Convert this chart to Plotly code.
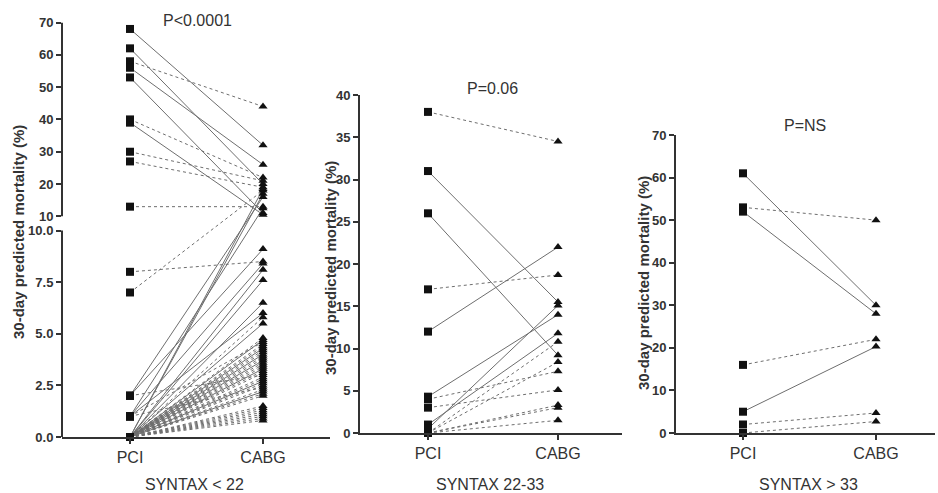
import plotly.graph_objects as go

# ---------------- data ----------------
groups = ["PCI", "CABG"]

# SYNTAX < 22 (paired PCI / CABG predicted 30-day mortality, %)
pci_lt22 = [68, 62, 58, 56, 53, 40, 39, 30, 27, 13, 7, 0, 0, 2, 1,
            8, 2, 2, 1, 1, 1, 1,
            0, 0, 0, 0, 0, 0, 0, 0, 0, 0, 0, 0, 0, 0, 0, 0, 0, 0, 0, 0, 0,
            0, 0, 0, 0, 0, 0, 0, 0, 0, 0, 0, 0, 0, 0, 0, 0, 0, 0]
cabg_lt22 = [32, 20, 44, 26, 11, 22, 10.5, 21, 19, 13, 18, 17, 18.5, 16, 12.5,
             8.5, 9.1, 3.0, 8.4, 6.0, 4.6, 2.4,
             8.1, 7.6, 6.5, 5.8, 5.5, 4.8, 4.7, 4.5, 4.4, 4.3, 4.2, 4.1, 4.0, 3.9, 3.8, 3.7, 3.6, 3.5, 3.4, 3.3, 3.2,
             3.1, 2.9, 2.8, 2.7, 2.6, 2.5, 2.3, 2.2, 2.1, 2.0, 1.5, 1.4, 1.3, 1.2, 1.1, 1.0, 0.9, 0.8]
style_lt22 = ["s", "s", "d", "s", "s", "d", "s", "d", "d", "d", "d", "s", "s", "s", "s",
              "d", "s", "d", "s", "s", "d", "d",
              "s", "s", "s", "d", "s", "d", "s", "d", "d", "s", "d", "d", "s", "d", "d", "s", "d", "d", "d", "s", "d",
              "d", "d", "d", "s", "d", "d", "d", "s", "d", "d", "d", "d", "d", "d", "d", "d", "d", "d"]

# SYNTAX 22-33
pci_22_33 = [38, 31, 26, 17, 12, 4.3, 4.0, 3.0, 1.0, 0.5, 0, 0, 0, 0, 0]
cabg_22_33 = [34.5, 15.5, 9.2, 18.7, 22, 14.0, 7.3, 5.1, 11.8, 15.1, 10.8, 8.4, 3.3, 3.0, 1.5]
style_22_33 = ["d", "s", "s", "d", "s", "s", "d", "d", "s", "s", "d", "d", "d", "d", "d"]

# SYNTAX > 33
pci_gt33 = [61, 53, 52, 16, 5, 2, 0]
cabg_gt33 = [30, 50, 28, 22, 20.3, 4.7, 2.7]
style_gt33 = ["s", "d", "s", "d", "s", "d", "d"]

p_labels = ["P<0.0001", "P=0.06", "P=NS"]
panel_labels = ["SYNTAX < 22", "SYNTAX 22-33", "SYNTAX > 33"]
y_title = "30-day predicted mortality (%)"

lower_ticks = [0, 2.5, 5, 7.5, 10]
upper_ticks = [10, 20, 30, 40, 50, 60, 70]

# ---------------- broken-axis scale for panel 1 ----------------
PX_LOW = 20.66          # px per unit in 0-10 segment
PX_UP = 3.233           # px per unit in 10-70 segment
GAP = 14.2 / PX_LOW     # gap between segments (in lower units)
K = PX_UP / PX_LOW


def brk(v):
    return v if v <= 10 else 10 + GAP + (v - 10) * K


FONT = "Liberation Sans, Arial, sans-serif"
AX = "#333333"
LINE_C = "#6e6e6e"
MARK_C = "#111111"

fig = go.Figure()


def add_panel(pci, cabg, style, xa, ya, tf=lambda v: v):
    for st, dash in (("d", "dot"), ("s", "solid")):
        xs, ys = [], []
        for a, b, s in zip(pci, cabg, style):
            if s == st:
                xs += [groups[0], groups[1], None]
                ys += [tf(a), tf(b), None]
        fig.add_trace(go.Scatter(x=xs, y=ys, mode="lines", xaxis=xa, yaxis=ya,
                                 line=dict(color=LINE_C, width=1, dash=dash),
                                 hoverinfo="skip", connectgaps=False))
    fig.add_trace(go.Scatter(x=[groups[0]] * len(pci), y=[tf(v) for v in pci],
                             mode="markers", xaxis=xa, yaxis=ya, cliponaxis=False,
                             marker=dict(symbol="square", size=8, color=MARK_C)))
    fig.add_trace(go.Scatter(x=[groups[1]] * len(cabg), y=[tf(v) for v in cabg],
                             mode="markers", xaxis=xa, yaxis=ya, cliponaxis=False,
                             marker=dict(symbol="triangle-up", size=8, color=MARK_C)))


add_panel(pci_lt22, cabg_lt22, style_lt22, "x", "y", brk)
add_panel(pci_22_33, cabg_22_33, style_22_33, "x2", "y2")
add_panel(pci_gt33, cabg_gt33, style_gt33, "x3", "y3")

W, H = 938, 493
tickfont = dict(family=FONT, size=13, color=AX, weight="bold")
xtickfont = dict(family=FONT, size=16, color=AX)


def xaxis(x0, x1, xp, xc, yanchor):
    ppu = xc - xp
    return dict(domain=[x0 / W, x1 / W], range=[-(xp - x0) / ppu, 1 + (x1 - xc) / ppu],
                type="category", anchor=yanchor, showline=True, linewidth=2, linecolor=AX,
                ticks="outside", ticklen=5, tickwidth=2, tickcolor=AX, automargin=False,
                tickfont=xtickfont, showgrid=False, zeroline=False, fixedrange=True)


def yaxis(y0, y1, rng, dtick, xanchor, showline=True):
    return dict(domain=[1 - y0 / H, 1 - y1 / H], range=rng, anchor=xanchor,
                showline=showline, linewidth=2, linecolor=AX, ticks="outside",
                ticklen=5, tickwidth=2, tickcolor=AX, tickfont=tickfont, automargin=False,
                showgrid=False, zeroline=False, dtick=dtick, fixedrange=True)


fig.update_layout(
    width=W, height=H, margin=dict(l=0, r=0, t=0, b=0, pad=0, autoexpand=False),
    paper_bgcolor="white", plot_bgcolor="white", showlegend=False, hovermode=False,
    xaxis=xaxis(62, 330, 130, 263, "y"),
    xaxis2=xaxis(360, 622, 428, 558, "y2"),
    xaxis3=xaxis(676, 935, 743, 876, "y3"),
    yaxis=yaxis(437, 22.5, [0, brk(70)], None, "x", showline=False),
    yaxis2=yaxis(433, 95, [0, 40], 5, "x2"),
    yaxis3=yaxis(433, 135, [0, 70], 10, "x3"),
)
fig.update_layout(yaxis=dict(
    tickmode="array",
    tickvals=[brk(v) for v in lower_ticks] + [brk(v) + (GAP if v == 10 else 0) for v in upper_ticks],
    ticktext=[f"{v:.1f}" for v in lower_ticks] + [str(v) for v in upper_ticks]))

# broken y-axis spine for panel 1
fig.add_shape(type="line", xref="x domain", yref="y", x0=0, x1=0, y0=0, y1=10,
              line=dict(color=AX, width=2))
fig.add_shape(type="line", xref="x domain", yref="y", x0=0, x1=0, y0=10 + GAP, y1=brk(70),
              line=dict(color=AX, width=2))

annos = []
for txt, xc, yc in zip(p_labels, [197, 492, 805], [20, 89, 125]):
    annos.append(dict(text=txt, x=xc / W, y=1 - yc / H, xref="paper", yref="paper",
                      showarrow=False, xanchor="center", yanchor="middle",
                      font=dict(family=FONT, size=16, color=AX)))
for txt, xc in zip(panel_labels, [194.5, 490, 808]):
    annos.append(dict(text=txt, x=xc / W, y=1 - 484 / H, xref="paper", yref="paper",
                      showarrow=False, xanchor="center", yanchor="middle",
                      font=dict(family=FONT, size=16, color=AX)))
for xc, yc in zip([18, 330, 643], [232, 268, 283]):
    annos.append(dict(text=y_title, x=xc / W, y=1 - yc / H, xref="paper", yref="paper",
                      showarrow=False, textangle=-90, xanchor="center", yanchor="middle",
                      font=dict(family=FONT, size=15, color=AX, weight="bold")))
fig.update_layout(annotations=annos)

fig.write_html("out.html", config={"displayModeBar": False, "staticPlot": True},
               post_script="document.body.style.margin='0px';")
